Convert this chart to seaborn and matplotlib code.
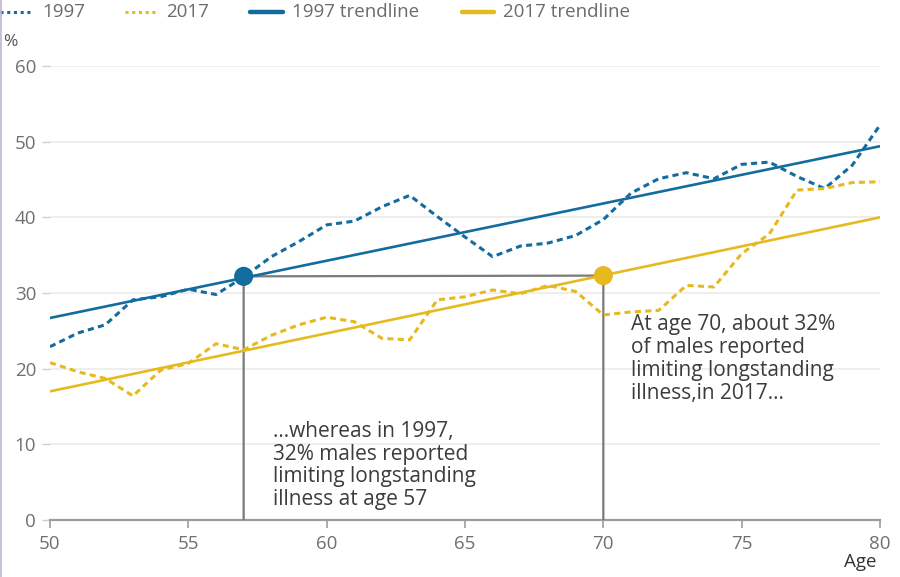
import numpy as np
import pandas as pd
import matplotlib
matplotlib.use("Agg")
import matplotlib.pyplot as plt
import seaborn as sns
from matplotlib.lines import Line2D

# ---------------- data ----------------
ages = list(range(50, 81))
v1997 = [22.9, 24.7, 25.8, 29.1, 29.5, 30.5, 29.8, 32.1, 34.8, 36.8, 39.0,
         39.5, 41.4, 42.9, 40.1, 37.4, 34.8, 36.2, 36.6, 37.6, 39.7,
         43.2, 45.1, 45.9, 45.1, 47.0, 47.3, 45.4, 43.8, 46.9, 52.2]
v2017 = [20.8, 19.6, 18.7, 16.4, 19.8, 20.7, 23.3, 22.5, 24.4, 25.8, 26.8,
         26.2, 24.0, 23.8, 29.1, 29.5, 30.4, 29.9, 31.0, 30.2, 27.1,
         27.5, 27.7, 31.0, 30.8, 35.2, 37.8, 43.6, 43.8, 44.6, 44.7]
trend_ages = [50, 80]
trend1997 = [26.7, 49.4]
trend2017 = [17.0, 40.0]
hl_ages = [57, 70]
hl_values = [32.2, 32.3]
hl_labels = ["1997", "2017"]
series_labels = ["1997", "2017", "1997 trendline", "2017 trendline"]
y_ticks = [0, 10, 20, 30, 40, 50, 60]
x_ticks = [50, 55, 60, 65, 70, 75, 80]
note_1997 = "...whereas in 1997,\n32% males reported\nlimiting longstanding\nillness at age 57"
note_2017 = "At age 70, about 32%\nof males reported\nlimiting longstanding\nillness,in 2017..."

BLUE = "#136c9d"
YELLOW = "#e6ba1f"
GRID = "#ebebeb"
TICK = "#707070"
TEXT = "#3c3c3c"

sns.set_theme(style="white")
plt.rcParams['font.family'] = ['Open Sans', 'DejaVu Sans']

fig = plt.figure(figsize=(9, 5.77), dpi=100)
ax = fig.add_axes([50/900, 1-520/577, 830/900, (520-66)/577])

df = pd.DataFrame({"age": ages, "y1997": v1997, "y2017": v2017})
tr = pd.DataFrame({"age": trend_ages, "t1997": trend1997, "t2017": trend2017})

# annotation guide lines (from highlighted points)
ax.plot([hl_ages[0], hl_ages[0], hl_ages[1], hl_ages[1]],
        [0, hl_values[0], hl_values[1], 0],
        color="#7a7a7a", lw=1.6, zorder=2, solid_joinstyle="miter")

sns.lineplot(data=df, x="age", y="y1997", ax=ax, color=BLUE, lw=2.2,
             linestyle=(0, (2.0, 1.4)), zorder=3)
sns.lineplot(data=df, x="age", y="y2017", ax=ax, color=YELLOW, lw=2.2,
             linestyle=(0, (2.0, 1.4)), zorder=3)
sns.lineplot(data=tr, x="age", y="t1997", ax=ax, color=BLUE, lw=1.9, zorder=4)
sns.lineplot(data=tr, x="age", y="t2017", ax=ax, color=YELLOW, lw=1.9, zorder=4)

sns.scatterplot(x=hl_ages, y=hl_values, hue=hl_labels,
                palette={"1997": BLUE, "2017": YELLOW}, s=190,
                edgecolor="none", legend=False, ax=ax, zorder=5)

ax.set_xlim(50, 80)
ax.set_ylim(0, 60)
ax.set_xticks(x_ticks)
ax.set_yticks(y_ticks)
ax.set_xlabel("")
ax.set_ylabel("")
ax.grid(axis="y", color=GRID, lw=1.2, zorder=0)
ax.set_axisbelow(True)
for s in ["top", "right", "left"]:
    ax.spines[s].set_visible(False)
ax.spines["bottom"].set_color("#9c9c9c")
ax.spines["bottom"].set_linewidth(1.6)
ax.spines["bottom"].set_zorder(1)
ax.tick_params(axis="x", which="both", bottom=True, length=6, width=1.2,
               color="#9c9c9c", labelsize=13.5, labelcolor=TICK, pad=5)
ax.tick_params(axis="y", which="both", left=True, length=6, width=1.0,
               color="#cfcfcf", labelsize=13.5, labelcolor=TICK, pad=4)

ax.text(58.05, 7.2, note_1997, ha="left", va="center", fontsize=15,
        color=TEXT, linespacing=1.1, zorder=6)
ax.text(71.0, 21.3, note_2017, ha="left", va="center", fontsize=15,
        color=TEXT, linespacing=1.13, zorder=6)

# "%" and "Age" labels
fig.text(3/900, 1-42/577, "%", ha="left", va="center", fontsize=12.5, color="#555555")
fig.text(876/900, 1-562/577, "Age", ha="right", va="center", fontsize=13.5, color="#333333")

# manual legend at top
ly = 1 - 12/577
legend_items = [
    (0, 30, 42, series_labels[0], BLUE, (0, (1.0, 1.2)), 2.2),
    (125, 155, 166, series_labels[1], YELLOW, (0, (1.0, 1.2)), 2.2),
    (250, 283, 292, series_labels[2], BLUE, "-", 3.2),
    (462, 494, 503, series_labels[3], YELLOW, "-", 3.2),
]
for x0, x1, xt, lab, col, ls, lw in legend_items:
    fig.add_artist(Line2D([x0/900, x1/900], [ly, ly], color=col, lw=lw,
                          linestyle=ls, transform=fig.transFigure))
    fig.text(xt/900, ly, lab, ha="left", va="center", fontsize=13.5, color="#6b6b6b")

# thin screen-edge line
fig.add_artist(Line2D([1/900, 1/900], [0, 1], color="#c2b3d6", lw=1.2,
                      transform=fig.transFigure))

fig.savefig("out.png", dpi=100, facecolor="white")
